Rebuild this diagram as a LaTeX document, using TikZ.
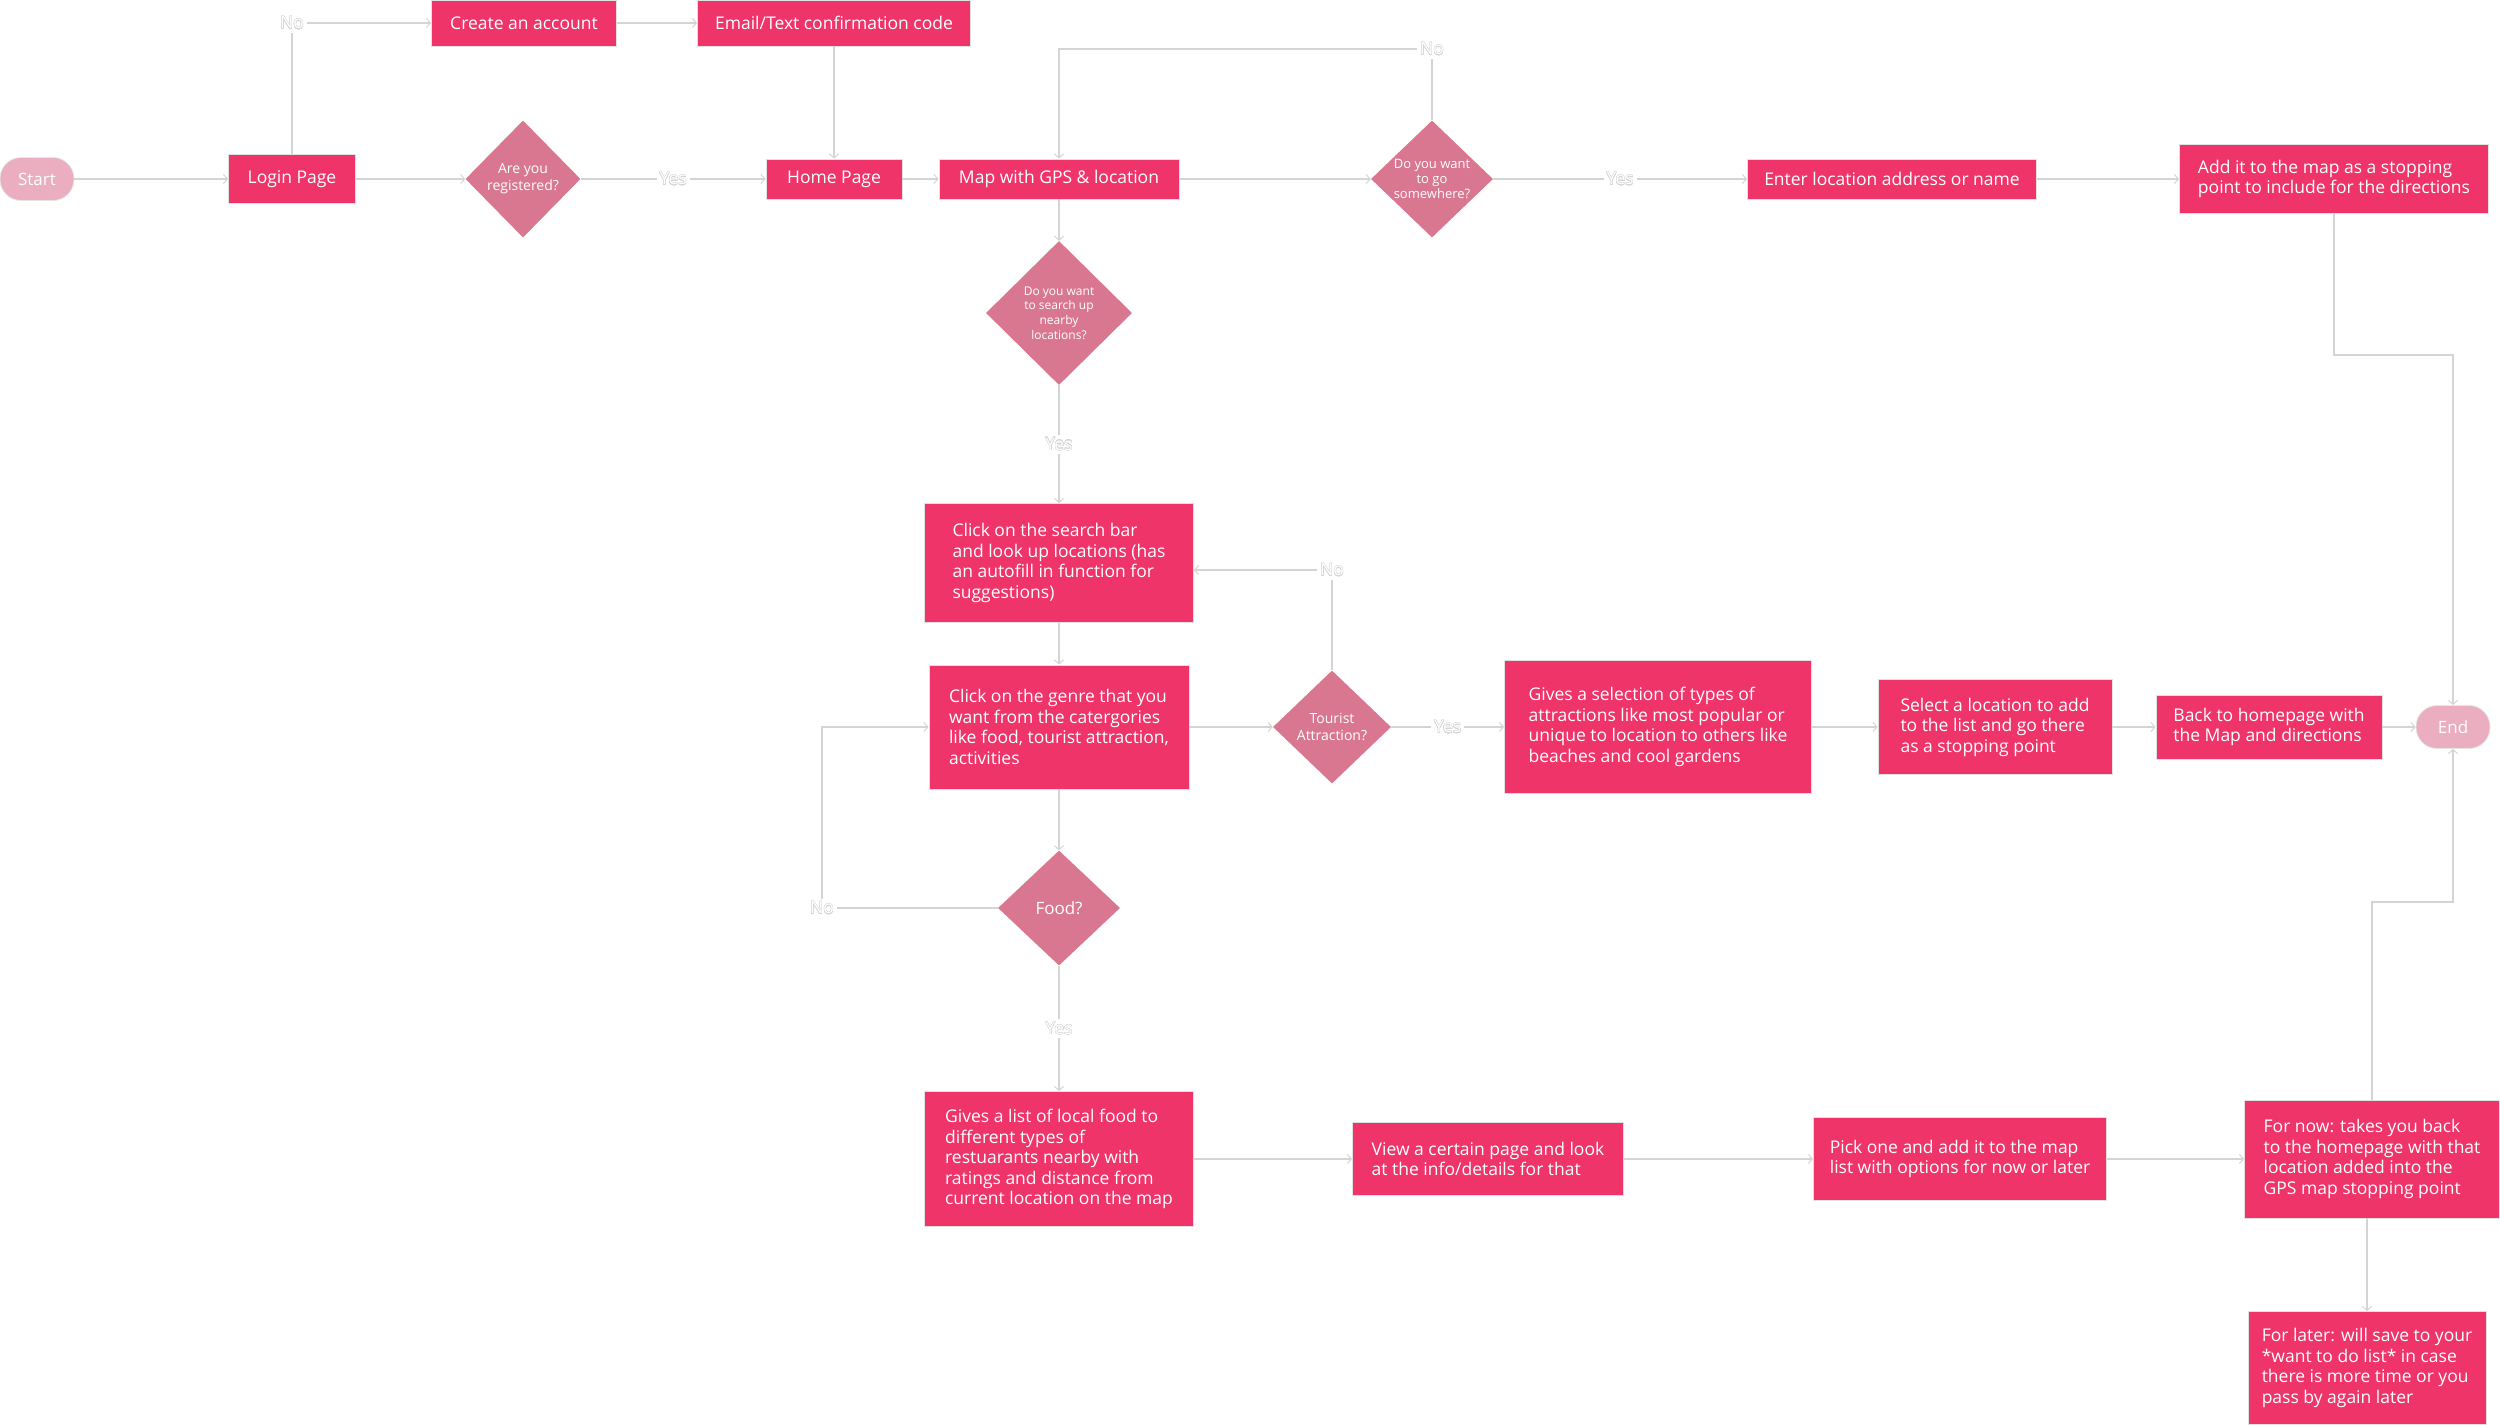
\documentclass[tikz,border=0pt]{standalone}
\usepackage{fontspec}
\setmainfont{Open Sans}
\usepackage{contour}
\usetikzlibrary{arrows.meta,shapes.geometric,positioning,calc}
\definecolor{boxpink}{HTML}{EF3469}
\definecolor{askpink}{HTML}{D97791}
\definecolor{endpink}{HTML}{EBAEC1}
\definecolor{wire}{HTML}{D4D4D4}
\contourlength{0.35pt}
\newcommand{\faint}[1]{\contour{black!17}{#1}}
\tikzset{
	screen/.style={
		rectangle,
		draw=black!12,
		line width=0.8pt,
		fill=boxpink,
		text=white,
		align=left,
		inner sep=0pt,
		font=\fontsize{17.5}{20.5}\selectfont,
	},
	question/.style={
		diamond,
		fill=askpink,
		text=white,
		align=center,
		inner sep=0pt,
		font=\fontsize{14}{17}\selectfont,
	},
	terminal/.style={
		rectangle,
		rounded corners=21pt,
		draw=black!10,
		line width=0.8pt,
		fill=endpink,
		text=white,
		minimum width=74pt,
		minimum height=43pt,
		font=\fontsize{17}{20}\selectfont,
	},
	answer/.style={
		fill=white,
		text=white,
		inner sep=3pt,
		font=\fontsize{17.5}{20}\selectfont,
	},
	link/.style={
		draw=wire,
		line width=1.6pt,
		->,
	},
}

\begin{document}
\begin{tikzpicture}[x=1pt, y=-1pt, >={Straight Barb[length=4pt,width=9pt,line width=1pt]}]
				\useasboundingbox (0,0) rectangle (2500,1424);
				% nodes
				\node [terminal] (start) at (37,179) {Start};
				\node [screen, minimum width=127pt, minimum height=49pt] (login) at (292,179) {Login Page};
				\node [question, minimum width=115pt, minimum height=117pt] (registered) at (523,179) {Are you\\registered?};
				\node [screen, minimum width=185pt, minimum height=46pt] (create) at (524,23) {Create an account};
				\node [screen, minimum width=273pt, minimum height=46pt] (email) at (834,23) {Email/Text confirmation code};
				\node [screen, minimum width=136pt, minimum height=40pt] (home) at (834,179) {Home Page};
				\node [screen, minimum width=240pt, minimum height=40pt] (map) at (1059,179) {Map with GPS \& location};
				\node [question, minimum width=122pt, minimum height=117pt, font=\fontsize{13}{15}\selectfont] (go) at (1432,179) {Do you want\\to go\\somewhere?};
				\node [screen, minimum width=289pt, minimum height=40pt] (enter) at (1892,179) {Enter location address or name};
				\node [screen, minimum width=309pt, minimum height=69pt] (addit) at (2334,179) {Add it to the map as a stopping\\point to include for the directions};
				\node [question, minimum width=146pt, minimum height=144pt, font=\fontsize{12}{14.7}\selectfont] (nearby) at (1059,313) {Do you want\\to search up\\nearby\\locations?};
				\node [screen, minimum width=269pt, minimum height=119pt] (search) at (1059,563) {Click on the search bar\\and look up locations (has\\an autofill in function for\\suggestions)};
				\node [screen, minimum width=260pt, minimum height=124pt] (genre) at (1059,727) {Click on the genre that you\\want from the catergories\\like food, tourist attraction,\\activities};
				\node [question, minimum width=118pt, minimum height=113pt, font=\fontsize{14}{17.5}\selectfont] (tourist) at (1332,727) {Tourist\\Attraction?};
				\node [screen, minimum width=307pt, minimum height=133pt] (attract) at (1658,727) {Gives a selection of types of\\attractions like most popular or\\unique to location to others like\\beaches and cool gardens};
				\node [screen, minimum width=234pt, minimum height=95pt] (select) at (1995,727) {Select a location to add\\to the list and go there\\as a stopping point};
				\node [screen, minimum width=226pt, minimum height=64pt] (back) at (2269,727) {Back to homepage with\\the Map and directions};
				\node [terminal] (end) at (2453,727) {End};
				\node [question, minimum width=122pt, minimum height=115pt, font=\fontsize{17}{20}\selectfont] (food) at (1059,908) {Food?};
				\node [screen, minimum width=269pt, minimum height=135pt] (foodlist) at (1059,1159) {Gives a list of local food to\\different types of\\restuarants nearby with\\ratings and distance from\\current location on the map};
				\node [screen, minimum width=271pt, minimum height=73pt] (view) at (1488,1159) {View a certain page and look\\at the info/details for that};
				\node [screen, minimum width=293pt, minimum height=83pt] (pick) at (1960,1159) {Pick one and add it to the map\\list with options for now or later};
				\node [screen, minimum width=255pt, minimum height=118pt] (now) at (2372,1159) {For now: takes you back\\to the homepage with that\\location added into the\\GPS map stopping point};
				\node [screen, minimum width=238pt, minimum height=113pt] (later) at (2367,1368) {For later: will save to your\\*want to do list* in case\\there is more time or you\\pass by again later};
				\coordinate (go-no) at (1432,49);
				\coordinate (tourist-no) at (1332,570);
				\coordinate (food-no) at (822,908);
				\coordinate (add-end) at (2453,355);
				\coordinate (now-end) at (2453,902);
				
				%arcs
				\path[link] (start) edge (login);
				\path[link] (login) edge (registered);
				\draw[link] (login.north) |- node[answer, pos=0.5] {\faint{No}} (create.west);
				\path[link] (create) edge (email);
				\path[link] (email) edge (home);
				\path[link] (registered) edge node[answer] {\faint{Yes}} (home);
				\path[link] (home) edge (map);
				\path[link] (map) edge (go);
				\draw[link] (go.north) -- (go-no) node[answer] {\faint{No}} -| (map.north);
				\path[link] (go) edge node[answer] {\faint{Yes}} (enter);
				\path[link] (enter) edge (addit);
				\draw[link] (addit.south) |- (add-end) -- (end.north);
				\path[link] (map) edge (nearby);
				\path[link] (nearby) edge node[answer] {\faint{Yes}} (search);
				\path[link] (search) edge (genre);
				\path[link] (genre) edge (tourist);
				\draw[link] (tourist.north) -- (tourist-no) node[answer] {\faint{No}} -- (tourist-no -| search.east);
				\path[link] (tourist) edge node[answer] {\faint{Yes}} (attract);
				\path[link] (attract) edge (select);
				\path[link] (select) edge (back);
				\path[link] (back) edge (end);
				\path[link] (genre) edge (food);
				\draw[link] (food.west) -- (food-no) node[answer] {\faint{No}} |- (genre.west);
				\path[link] (food) edge node[answer] {\faint{Yes}} (foodlist);
				\path[link] (foodlist) edge (view);
				\path[link] (view) edge (pick);
				\path[link] (pick) edge (now);
				\draw[link] (now.north) |- (now-end) -- (end.south);
				\draw[link] (later.north |- now.south) -- (later.north);
			\end{tikzpicture}
\end{document}
